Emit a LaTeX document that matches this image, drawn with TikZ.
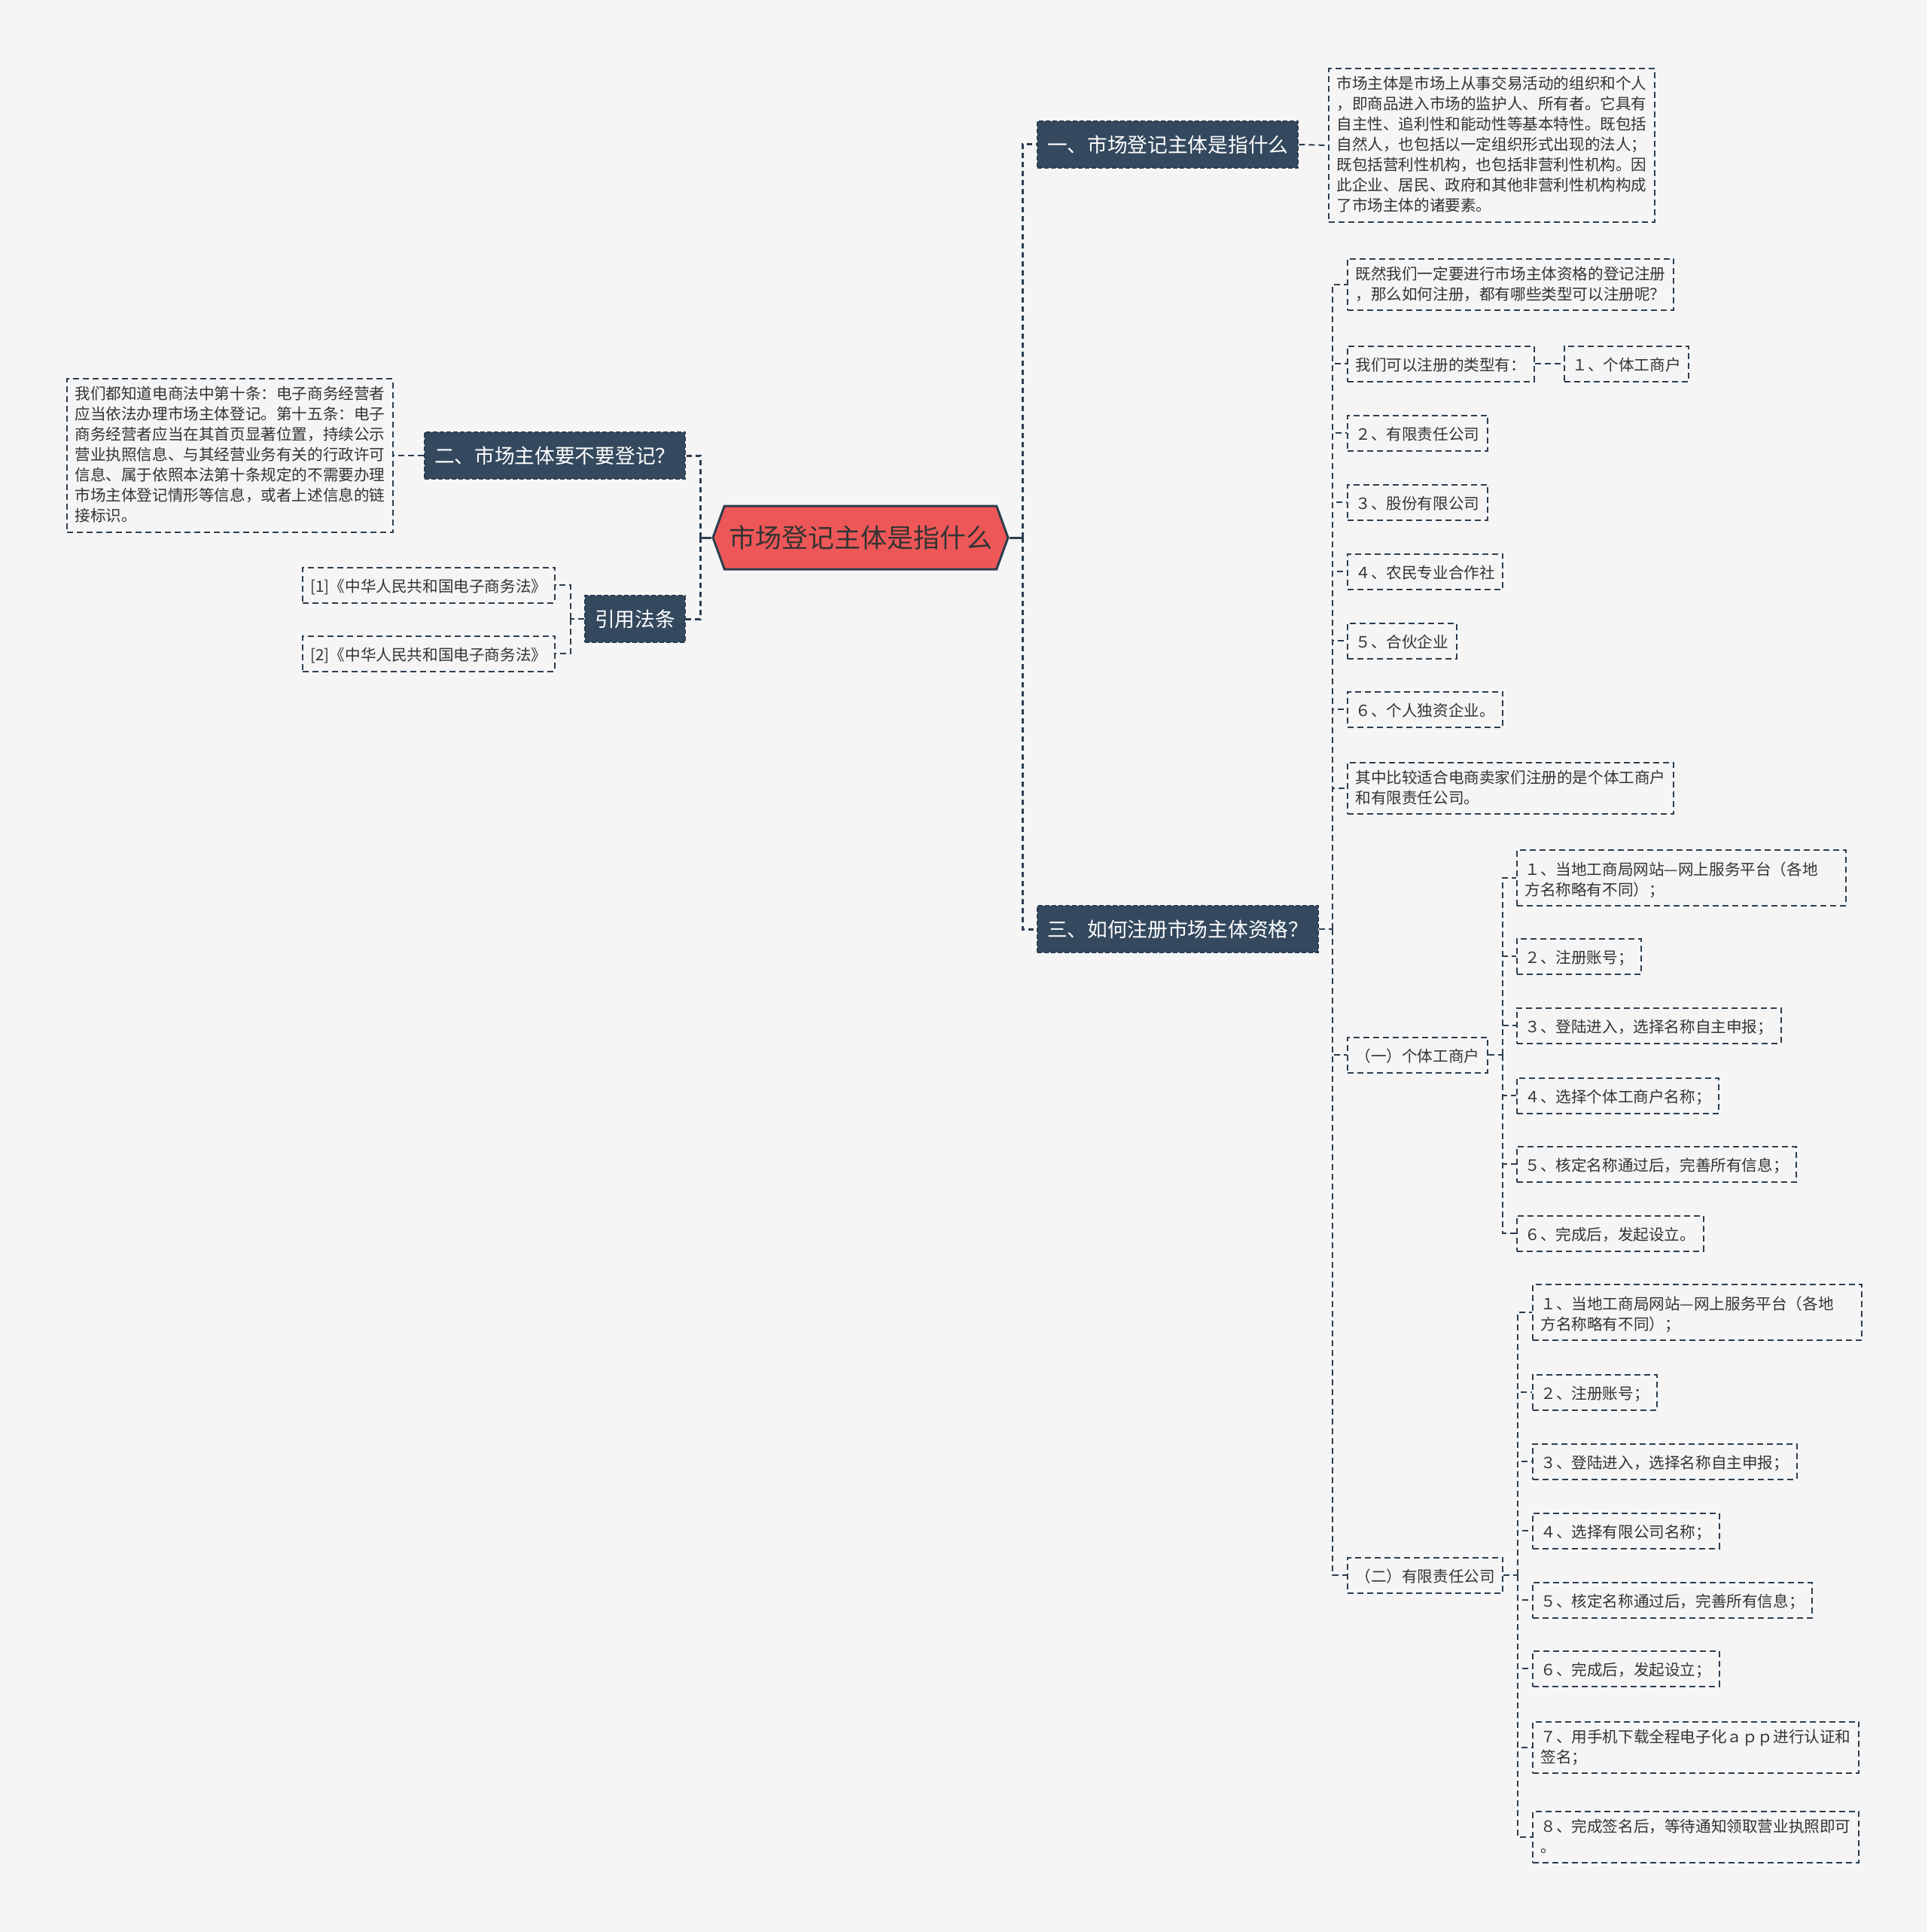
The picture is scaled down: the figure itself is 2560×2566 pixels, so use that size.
\documentclass[tikz,border=0pt]{standalone}
\usepackage{fontspec}
\setmainfont{Noto Sans CJK SC}
\usepackage{xcolor}
\usepackage{tikz}
\usetikzlibrary{shapes.symbols, positioning, calc}

\definecolor{bgcol}{HTML}{F5F5F5}
\definecolor{slate}{HTML}{34495E}
\definecolor{rootred}{HTML}{EE5757}
\definecolor{linecol}{HTML}{2C3E50}
\definecolor{txtcol}{HTML}{333333}

\newcommand{\nstrut}{\rule[-4pt]{0pt}{27pt}}

\begin{document}
\begin{tikzpicture}[x=1pt, y=-1pt,
  root/.style={signal, signal to=west and east, signal pointer angle=140,
    draw=linecol, line width=3pt, fill=rootred, text=txtcol,
    minimum width=392pt, minimum height=84pt, inner sep=0pt,
    text height=30.8pt, text depth=4.2pt, font=\fontsize{35}{40}\selectfont},
  topic/.style={rectangle, draw=linecol, line width=2pt, dash pattern=on 6pt off 3pt,
    fill=slate, text=white, minimum height=62pt, inner xsep=13pt, anchor=west,
    text height=23.5pt, text depth=3.2pt, font=\fontsize{26.7}{30}\selectfont},
  note/.style={rectangle, draw=linecol, line width=2pt, dash pattern=on 8pt off 5pt,
    align=left, text=txtcol, inner xsep=10.5pt, inner ysep=10pt, anchor=west,
    execute at begin node=\nstrut, execute at end node=\nstrut,
    font=\fontsize{20.6}{27}\selectfont},
  link/.style={draw=linecol, line width=2pt, dash pattern=on 8pt off 5pt},
  rootlink/.style={draw=linecol, line width=3pt},
  rootbus/.style={rootlink, dash pattern=on 7pt off 5pt},
]

% Background / page size
\fill[bgcol] (0,0) rectangle (2560,2566);

% Root
\node[root] (root) at (1143,714) {市场登记主体是指什么};

% Main topics
\node[topic] (q1) at (1377,192) {一、市场登记主体是指什么};
\node[topic] (q2) at (563,605) {二、市场主体要不要登记？};
\node[topic] (refs) at (776,822) {引用法条};
\node[topic] (q3) at (1377,1234) {三、如何注册市场主体资格？};

% Topic one
\node[note] (d1) at (1764,193) {市场主体是市场上从事交易活动的组织和个人\\，即商品进入市场的监护人、所有者。它具有\\自主性、追利性和能动性等基本特性。既包括\\自然人，也包括以一定组织形式出现的法人；\\既包括营利性机构，也包括非营利性机构。因\\此企业、居民、政府和其他非营利性机构构成\\了市场主体的诸要素。};

% Topic two
\node[note] (d2) at (88,605) {我们都知道电商法中第十条：电子商务经营者\\应当依法办理市场主体登记。第十五条：电子\\商务经营者应当在其首页显著位置，持续公示\\营业执照信息、与其经营业务有关的行政许可\\信息、属于依照本法第十条规定的不需要办理\\市场主体登记情形等信息，或者上述信息的链\\接标识。};

% References
\node[note] (ref1) at (401,777) {[1]《中华人民共和国电子商务法》};
\node[note] (ref2) at (401,868) {[2]《中华人民共和国电子商务法》};

% Topic three
\node[note] (s1) at (1789,378) {既然我们一定要进行市场主体资格的登记注册\\，那么如何注册，都有哪些类型可以注册呢？};
\node[note] (s2) at (1789,483) {我们可以注册的类型有：};
\node[note] (t1) at (2077,483) {１、个体工商户};
\node[note] (s3) at (1789,575) {２、有限责任公司};
\node[note] (s4) at (1789,667) {３、股份有限公司};
\node[note] (s5) at (1789,759) {４、农民专业合作社};
\node[note] (s6) at (1789,851) {５、合伙企业};
\node[note] (s7) at (1789,942) {６、个人独资企业。};
\node[note] (s8) at (1789,1047) {其中比较适合电商卖家们注册的是个体工商户\\和有限责任公司。};
\node[note] (ga) at (1789,1401) {（一）个体工商户};
\node[note] (gb) at (1789,2092) {（二）有限责任公司};

% Sole trader steps
\node[note, text width=416pt] (ga1) at (2014,1166) {１、当地工商局网站—网上服务平台（各地\\方名称略有不同）；};
\node[note] (ga2) at (2014,1270) {２、注册账号；};
\node[note] (ga3) at (2014,1362) {３、登陆进入，选择名称自主申报；};
\node[note] (ga4) at (2014,1455) {４、选择个体工商户名称；};
\node[note] (ga5) at (2014,1546) {５、核定名称通过后，完善所有信息；};
\node[note] (ga6) at (2014,1638) {６、完成后，发起设立。};

% Limited company steps
\node[note, text width=416pt] (gb1) at (2035,1743) {１、当地工商局网站—网上服务平台（各地\\方名称略有不同）；};
\node[note] (gb2) at (2035,1849) {２、注册账号；};
\node[note] (gb3) at (2035,1941) {３、登陆进入，选择名称自主申报；};
\node[note] (gb4) at (2035,2033) {４、选择有限公司名称；};
\node[note] (gb5) at (2035,2125) {５、核定名称通过后，完善所有信息；};
\node[note] (gb6) at (2035,2216) {６、完成后，发起设立；};
\node[note] (gb7) at (2035,2321) {７、用手机下载全程电子化ａｐｐ进行认证和\\签名；};
\node[note] (gb8) at (2035,2440) {８、完成签名后，等待通知领取营业执照即可\\。};

% Bus points
\coordinate (busL) at (930,714);
\coordinate (busR) at (1358,714);
\coordinate (busRef) at (758,822);
\coordinate (bus3) at (1770,1234);
\coordinate (busA) at (1996,1401);
\coordinate (busB) at (2016,2092);

% Root connectors
\draw[rootlink] (root.west) -- (busL);
\draw[rootlink] (root.east) -- (busR);
\draw[rootbus] (busL) |- (q2.east);
\draw[rootbus] (busL) |- (refs.east);
\draw[rootbus] (busR) |- (q1.west);
\draw[rootbus] (busR) |- (q3.west);

% Topic connectors
\draw[link] (q1.east) -- (d1.west);
\draw[link] (q2.west) -- (d2.east);
\draw[link] (refs.west) -- (busRef);
\draw[link] (busRef) |- (ref1.east);
\draw[link] (busRef) |- (ref2.east);
\draw[link] (s2.east) -- (t1.west);

\draw[link] (q3.east) -- (bus3);
\foreach \c in {s1,s2,s3,s4,s5,s6,s7,s8,ga,gb}
  \draw[link] (bus3) |- (\c.west);

\draw[link] (ga.east) -- (busA);
\foreach \c in {ga1,ga2,ga3,ga4,ga5,ga6}
  \draw[link] (busA) |- (\c.west);

\draw[link] (gb.east) -- (busB);
\foreach \c in {gb1,gb2,gb3,gb4,gb5,gb6,gb7,gb8}
  \draw[link] (busB) |- (\c.west);

\end{tikzpicture}
\end{document}
